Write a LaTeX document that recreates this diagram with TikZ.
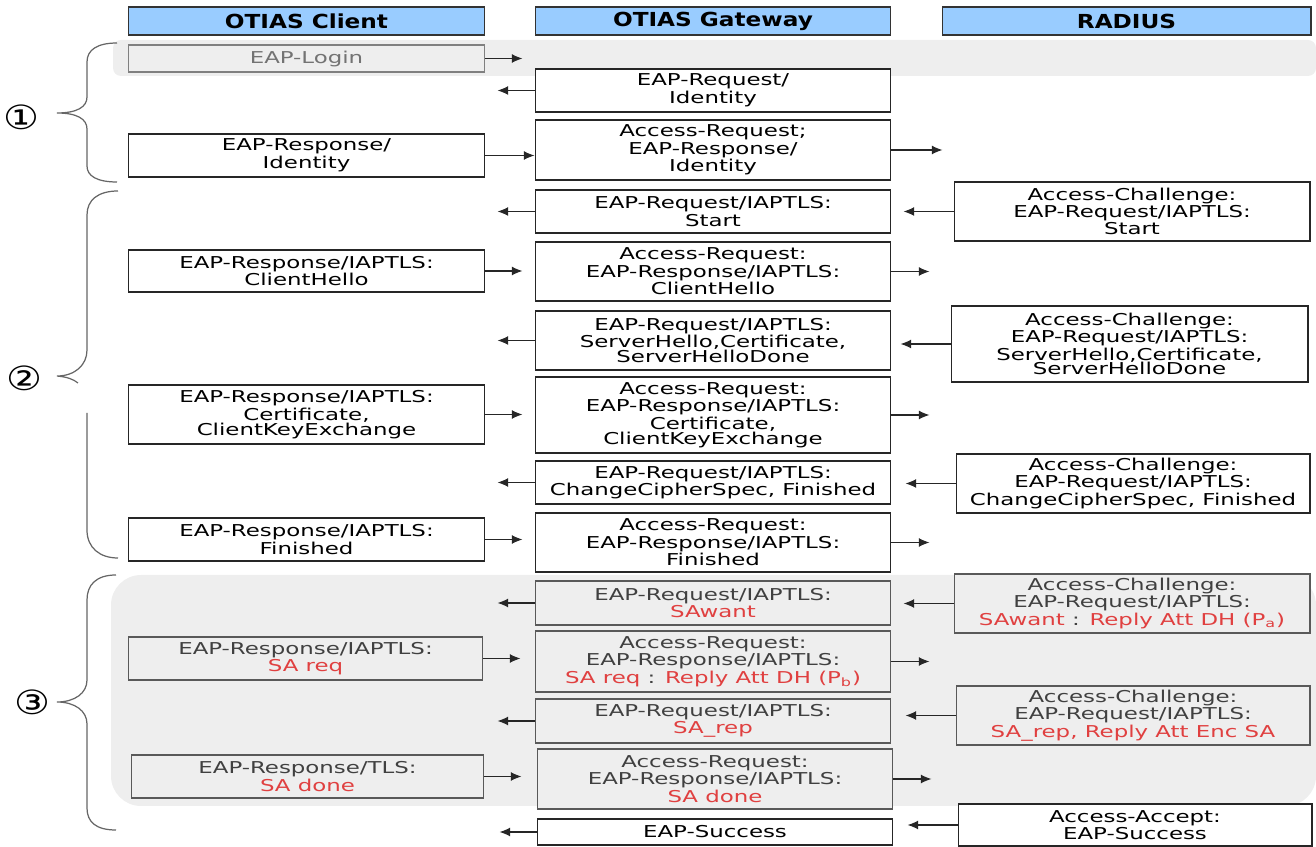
\documentclass[tikz,border=0pt]{standalone}
\usepackage{fontspec}
\usetikzlibrary{arrows.meta}
\newfontfamily\boxfont[FakeStretch=1.4]{DejaVu Sans}
\newfontfamily\headfont[FakeStretch=1.2]{DejaVu Sans}
\definecolor{headblue}{RGB}{153,204,255}
\definecolor{shadegray}{RGB}{238,238,238}
\definecolor{sared}{RGB}{224,64,64}
\newcommand{\satext}[1]{\textcolor{sared}{#1}}

\begin{document}
\begin{tikzpicture}[x=0.02cm, y=-0.02cm,
    head/.style={draw=black!80, fill=headblue, line width=0.6pt, inner sep=0pt,
        minimum height=0.56cm, font=\headfont\bfseries\fontsize{11}{11}\selectfont},
    msg/.style={draw=black!85, fill=white, line width=0.6pt, align=center, inner sep=0pt,
        font=\boxfont\fontsize{9.3}{8.5}\selectfont},
    shmsg/.style={msg, fill=shadegray, draw=black!65, text=black!75},
    arr/.style={-{Latex[length=6pt,width=5pt]}, line width=0.6pt, black!85},
    brace/.style={draw=black!60, line width=0.7pt},
    circ/.style={font=\headfont\fontsize{19}{19}\selectfont, inner sep=0pt}]
    \useasboundingbox (0,0) rectangle (1316,847);

    % Shaded phases
    \fill[shadegray, rounded corners=0.16cm] (113,40) rectangle (1316,76);
    \fill[shadegray, rounded corners=0.6cm] (111,575) rectangle (1316,806);

    % Column heads
    \node[head, minimum width=7.14cm] (hclient) at (306.5,21) {OTIAS Client};
    \node[head, minimum width=7.12cm] (hgate) at (713,21) {OTIAS Gateway};
    \node[head, minimum width=7.38cm] (hradius) at (1126.5,21) {RADIUS};

    % Client messages
    \node[msg, fill=shadegray, draw=black!50, text=black!55, minimum width=7.14cm, minimum height=0.54cm] (login) at (306.5,58.5) {EAP-Login};
    \node[msg, minimum width=7.14cm, minimum height=0.86cm] (cid) at (306.5,155.5) {EAP-Response/\\Identity};
    \node[msg, minimum width=7.14cm, minimum height=0.84cm] (chello) at (306.5,271) {EAP-Response/IAPTLS:\\ClientHello};
    \node[msg, minimum width=7.14cm, minimum height=1.18cm] (ccert) at (306.5,414.5) {EAP-Response/IAPTLS:\\Certificate,\\ClientKeyExchange};
    \node[msg, minimum width=7.14cm, minimum height=0.86cm] (cfin) at (306.5,539.5) {EAP-Response/IAPTLS:\\Finished};
    \node[shmsg, minimum width=7.10cm, minimum height=0.86cm] (creq) at (305.5,658.5) {EAP-Response/IAPTLS:\\\satext{SA req}};
    \node[shmsg, minimum width=7.06cm, minimum height=0.86cm] (cdone) at (307.5,776.5) {EAP-Response/TLS:\\\satext{SA done}};

    % Gateway messages
    \node[msg, minimum width=7.12cm, minimum height=0.86cm] (gid) at (713,90.5) {EAP-Request/\\Identity};
    \node[msg, minimum width=7.12cm, minimum height=1.20cm] (gacc) at (713,150) {Access-Request;\\EAP-Response/\\Identity};
    \node[msg, minimum width=7.12cm, minimum height=0.86cm] (gstart) at (713,211.5) {EAP-Request/IAPTLS:\\Start};
    \node[msg, minimum width=7.12cm, minimum height=1.18cm] (ghello) at (713,271.5) {Access-Request:\\EAP-Response/IAPTLS:\\ClientHello};
    \node[msg, minimum width=7.12cm, minimum height=1.18cm] (gserver) at (713,340.5) {EAP-Request/IAPTLS:\\ServerHello,Certificate,\\ServerHelloDone};
    \node[msg, minimum width=7.12cm, minimum height=1.52cm] (gcert) at (713,415) {Access-Request:\\EAP-Response/IAPTLS:\\Certificate,\\ClientKeyExchange};
    \node[msg, minimum width=7.12cm, minimum height=0.86cm] (gccs) at (713,482.5) {EAP-Request/IAPTLS:\\ChangeCipherSpec, Finished};
    \node[msg, minimum width=7.12cm, minimum height=1.18cm] (gfin) at (713,542.5) {Access-Request:\\EAP-Response/IAPTLS:\\Finished};
    \node[shmsg, minimum width=7.12cm, minimum height=0.88cm] (gwant) at (713,603) {EAP-Request/IAPTLS:\\\satext{SAwant}};
    \node[shmsg, minimum width=7.12cm, minimum height=1.22cm] (greq) at (713,661.5) {Access-Request:\\EAP-Response/IAPTLS:\\\satext{SA req} : \satext{Reply Att DH (P\textsubscript{b})}};
    \node[shmsg, minimum width=7.12cm, minimum height=0.88cm] (grep) at (713,721) {EAP-Request/IAPTLS:\\\satext{SA\_rep}};
    \node[shmsg, minimum width=7.12cm, minimum height=1.20cm] (gdone) at (715,779) {Access-Request:\\EAP-Response/IAPTLS:\\\satext{SA done}};
    \node[msg, minimum width=7.12cm, minimum height=0.52cm] (gsucc) at (715,832) {EAP-Success};

    % RADIUS messages
    \node[msg, minimum width=7.12cm, minimum height=1.18cm] (rstart) at (1132,211.5) {Access-Challenge:\\EAP-Request/IAPTLS:\\Start};
    \node[msg, minimum width=7.14cm, minimum height=1.52cm] (rserver) at (1129.5,344) {Access-Challenge:\\EAP-Request/IAPTLS:\\ServerHello,Certificate,\\ServerHelloDone};
    \node[msg, minimum width=7.08cm, minimum height=1.18cm] (rccs) at (1133,483.5) {Access-Challenge:\\EAP-Request/IAPTLS:\\ChangeCipherSpec, Finished};
    \node[shmsg, minimum width=7.12cm, minimum height=1.18cm] (rwant) at (1132,603.5) {Access-Challenge:\\EAP-Request/IAPTLS:\\\satext{SAwant} : \satext{Reply Att DH (P\textsubscript{a})}};
    \node[shmsg, minimum width=7.08cm, minimum height=1.18cm] (rrep) at (1133,715.5) {Access-Challenge:\\EAP-Request/IAPTLS:\\\satext{SA\_rep, Reply Att Enc SA}};
    \node[msg, minimum width=7.08cm, minimum height=0.84cm] (raccept) at (1135,825) {Access-Accept:\\EAP-Success};

    % Client to gateway
    \foreach \n in {login,chello,ccert,cfin,creq,cdone}
        \draw[arr] (\n.east) -- ++(37,0);
    \draw[arr] (cid.east) -- (cid.east -| gacc.west);

    % Gateway to client
    \foreach \n in {gid,gstart,gserver,gccs,gwant,grep,gsucc}
        \draw[arr] (\n.west) -- ++(-37,0);

    % Gateway to RADIUS
    \draw[arr] (gacc.east) -- ++(51,0);
    \foreach \n in {ghello,gcert,gfin,greq,gdone}
        \draw[arr] (\n.east) -- ++(38,0);

    % RADIUS to gateway
    \foreach \n in {rstart,rserver,rccs,rwant,rrep,raccept}
        \draw[arr] (\n.west) -- ++(-50,0);

    % Phase braces
    \draw[brace] (117,43) .. controls (97,43) and (87,50) .. (87,62) -- (87,97)
        .. controls (87,107) and (77,113) .. (57,113)
        .. controls (77,113) and (87,119) .. (87,129) -- (87,166)
        .. controls (87,176) and (97,182) .. (117,182);
    \draw[brace] (118,191) .. controls (98,191) and (87,200) .. (87,215) -- (87,350)
        .. controls (87,365) and (75,376) .. (57,376)
        .. controls (67,377) and (73,379) .. (78,383);
    \draw[brace] (87,413) -- (87,530) .. controls (87,548) and (100,558) .. (118,558);
    \draw[brace] (116,575) .. controls (96,575) and (87,585) .. (87,600) -- (87,680)
        .. controls (87,693) and (75,702) .. (57,702)
        .. controls (75,702) and (87,711) .. (87,724) -- (87,808)
        .. controls (87,822) and (96,830) .. (116,830);

    % Phase numbers
    \node[circ] (one) at (21,117) {①};
    \node[circ] (two) at (24,378) {②};
    \node[circ] (three) at (32,702) {③};
\end{tikzpicture}
\end{document}
